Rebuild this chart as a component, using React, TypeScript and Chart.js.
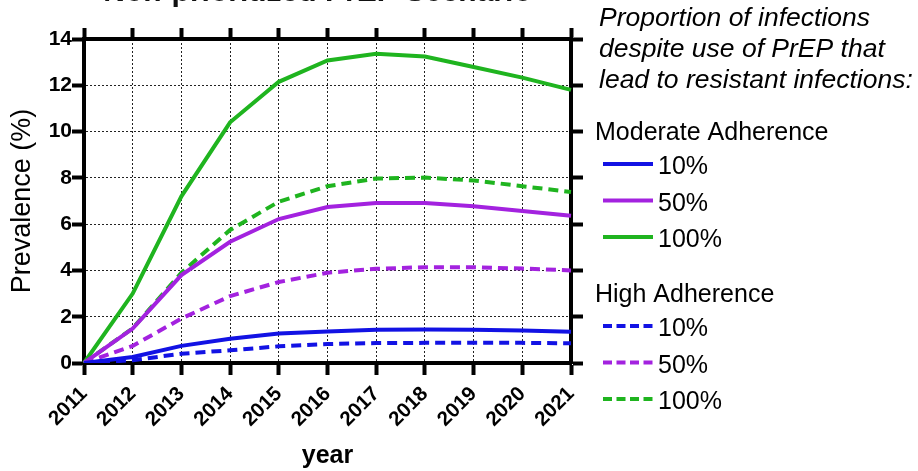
import React, { useEffect, useRef } from "react";
import { Chart, registerables } from "chart.js";

Chart.register(...registerables);

const years = ["2011", "2012", "2013", "2014", "2015", "2016", "2017", "2018", "2019", "2020", "2021"];

const moderate10 = [0, 0.26, 0.74, 1.05, 1.27, 1.36, 1.44, 1.45, 1.44, 1.4, 1.35];
const moderate50 = [0, 1.49, 3.8, 5.24, 6.22, 6.74, 6.91, 6.91, 6.77, 6.57, 6.36];
const moderate100 = [0, 3.0, 7.2, 10.4, 12.15, 13.07, 13.36, 13.24, 12.79, 12.33, 11.8];
const high10 = [0, 0.12, 0.4, 0.55, 0.72, 0.82, 0.86, 0.87, 0.87, 0.87, 0.85];
const high50 = [0, 0.74, 1.92, 2.89, 3.5, 3.9, 4.07, 4.14, 4.14, 4.08, 4.0];
const high100 = [0, 1.5, 3.9, 5.75, 6.97, 7.64, 7.97, 8.01, 7.89, 7.64, 7.39];

const yMin = 0;
const yMax = 14;
const yStep = 2;

const titleText = "Non-prioritized PrEP Scenario";
const xTitle = "year";
const yTitle = "Prevalence (%)";
const legendHeader = ["Proportion of infections", "despite use of PrEP that", "lead to resistant infections:"];
const groupLabels = ["Moderate Adherence", "High Adherence"];
const seriesLabels = ["10%", "50%", "100%"];

const BLUE = "#1212e4";
const PURPLE = "#a322df";
const GREEN = "#1fb41f";
const FONT = "'Liberation Sans', Arial, Helvetica, sans-serif";

const titlePlugin = {
  id: "topTitle",
  afterDraw(chart: any) {
    const { ctx, chartArea } = chart;
    ctx.save();
    ctx.font = `bold 30px ${FONT}`;
    ctx.fillStyle = "#111";
    ctx.textAlign = "center";
    ctx.textBaseline = "alphabetic";
    ctx.fillText(titleText, (chartArea.left + chartArea.right) / 2 - 10, 0.5);
    ctx.restore();
  },
};

const legendPlugin = {
  id: "sideLegend",
  afterDraw(chart: any) {
    const { ctx } = chart;
    ctx.save();
    ctx.fillStyle = "#000";
    ctx.textBaseline = "alphabetic";
    ctx.textAlign = "left";
    ctx.font = `italic 26.5px ${FONT}`;
    legendHeader.forEach((line, i) => ctx.fillText(line, 599, 26 + i * 31));

    const groupBase = [140, 302];
    groupLabels.forEach((g, gi) => {
      ctx.font = `25px ${FONT}`;
      ctx.fillStyle = "#000";
      ctx.fillText(g, 595, groupBase[gi]);
      const ds = chart.data.datasets.filter((d: any) => d.group === gi);
      ds.forEach((d: any, i: number) => {
        const base = groupBase[gi] + 34 + i * 36.5;
        const ly = base - 10;
        ctx.beginPath();
        ctx.strokeStyle = d.borderColor;
        ctx.lineWidth = 4;
        ctx.setLineDash(d.borderDash && d.borderDash.length ? [9, 4.5] : []);
        ctx.moveTo(603, ly);
        ctx.lineTo(653, ly);
        ctx.stroke();
        ctx.setLineDash([]);
        ctx.fillStyle = "#000";
        ctx.fillText(d.label, 658, base);
      });
    });
    ctx.restore();
  },
};

export default function App() {
  const ref = useRef<HTMLCanvasElement | null>(null);

  useEffect(() => {
    if (!ref.current) return;
    const mk = (label: string, data: number[], color: string, group: number) => ({
      label,
      data,
      group,
      borderColor: color,
      backgroundColor: color,
      borderWidth: 4,
      borderDash: group === 1 ? [10, 6] : [],
      pointRadius: 0,
      tension: 0,
      fill: false,
    });
    const datasets: any[] = [
      mk(seriesLabels[0], moderate10, BLUE, 0),
      mk(seriesLabels[1], moderate50, PURPLE, 0),
      mk(seriesLabels[2], moderate100, GREEN, 0),
      mk(seriesLabels[0], high10, BLUE, 1),
      mk(seriesLabels[1], high50, PURPLE, 1),
      mk(seriesLabels[2], high100, GREEN, 1),
    ];

    const gridMain = {
      color: "#222",
      lineWidth: 1,
      drawTicks: true,
      tickLength: 12,
      tickWidth: 4,
      tickColor: "#000",
      tickBorderDash: [],
    };
    const border = { display: true, color: "#000", width: 4, dash: [2, 2] };

    const chart = new Chart(ref.current, {
      type: "line",
      data: { labels: years, datasets },
      plugins: [titlePlugin, legendPlugin],
      options: {
        animation: false,
        responsive: false,
        devicePixelRatio: 1,
        layout: { padding: { top: 28, right: 335, bottom: 0, left: 0 } },
        plugins: { legend: { display: false }, tooltip: { enabled: false }, title: { display: false } },
        font: { family: FONT },
        scales: {
          x: {
            type: "category",
            position: "bottom",
            offset: false,
            grid: { ...gridMain },
            border,
            ticks: {
              autoSkip: false,
              minRotation: 45,
              maxRotation: 45,
              padding: 7,
              color: "#000",
              font: { family: FONT, size: 20.5, weight: "bold" },
            },
            title: {
              display: true,
              text: xTitle,
              color: "#000",
              font: { family: FONT, size: 25, weight: "bold" },
              padding: { top: 0, bottom: 0 },
            },
            afterFit(scale: any) {
              scale.height = 108;
            },
          },
          x2: {
            type: "category",
            position: "top",
            offset: false,
            grid: { ...gridMain, drawOnChartArea: false, tickLength: 11 },
            border: { display: true, color: "#000", width: 4 },
            ticks: { display: false },
            afterFit(scale: any) {
              scale.height = 11;
            },
          },
          y: {
            type: "linear",
            position: "left",
            min: yMin,
            max: yMax,
            grid: { ...gridMain },
            border,
            ticks: {
              stepSize: yStep,
              padding: 0,
              color: "#000",
              font: { family: FONT, size: 21, weight: "bold" },
            },
            title: {
              display: true,
              text: yTitle,
              color: "#000",
              font: { family: FONT, size: 27, weight: "normal" },
              padding: { top: 6, bottom: 0 },
            },
            afterFit(scale: any) {
              scale.width = 84;
            },
          },
          y2: {
            type: "linear",
            position: "right",
            min: yMin,
            max: yMax,
            grid: { ...gridMain, drawOnChartArea: false },
            border: { display: true, color: "#000", width: 4 },
            ticks: { display: false, stepSize: yStep },
            afterFit(scale: any) {
              scale.width = 12;
            },
          },
        },
      } as any,
    });
    return () => chart.destroy();
  }, []);

  return (
    <div style={{ position: "absolute", left: 0, top: 0, width: 918, height: 471, background: "#fff" }}>
      <canvas ref={ref} width={918} height={471} style={{ display: "block", width: 918, height: 471 }} />
    </div>
  );
}
